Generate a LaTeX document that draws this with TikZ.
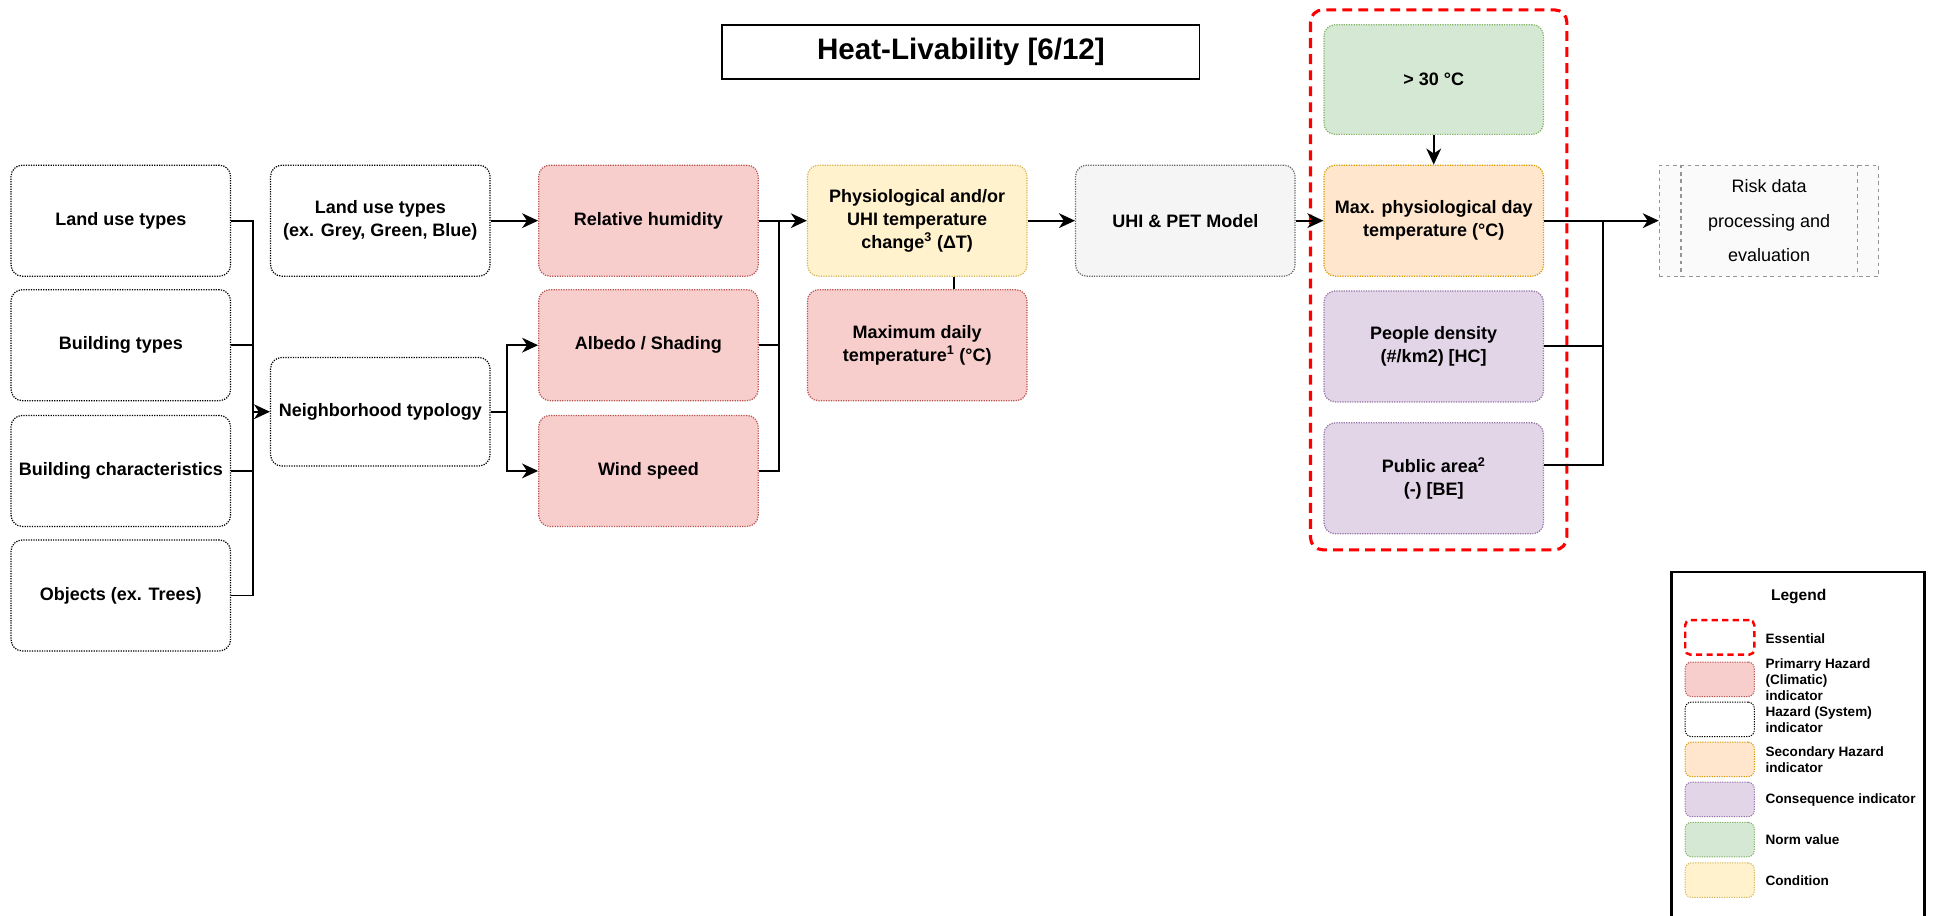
\documentclass[tikz,border=0pt]{standalone}
\usepackage{fontspec}
\setmainfont{Liberation Sans}
\usetikzlibrary{arrows.meta}

\definecolor{redF}{HTML}{F8CECC}\definecolor{redD}{HTML}{B85450}
\definecolor{yelF}{HTML}{FFF2CC}\definecolor{yelD}{HTML}{D6B656}
\definecolor{orgF}{HTML}{FFE6CC}\definecolor{orgD}{HTML}{D79B00}
\definecolor{purF}{HTML}{E1D5E7}\definecolor{purD}{HTML}{9673A6}
\definecolor{grnF}{HTML}{D5E8D4}\definecolor{grnD}{HTML}{82B366}
\definecolor{gryF}{HTML}{F5F5F5}\definecolor{gryD}{HTML}{666666}
\definecolor{essRed}{HTML}{FF0000}

\tikzset{
  box/.style={rounded corners=9pt, line width=1pt, dash pattern=on 1pt off 1pt,
    minimum width=178pt, minimum height=90pt, align=center, inner sep=2pt,
    font=\bfseries\fontsize{14.6}{18.5}\selectfont},
  sysbox/.style={box, draw=black, fill=white},
  primbox/.style={box, draw=redD, fill=redF},
  condbox/.style={box, draw=yelD, fill=yelF},
  secbox/.style={box, draw=orgD, fill=orgF},
  consbox/.style={box, draw=purD, fill=purF},
  normbox/.style={box, draw=grnD, fill=grnF},
  modelbox/.style={box, draw=gryD, fill=gryF},
  link/.style={line width=1.5pt, draw=black},
  arr/.style={link, -{Stealth[length=13pt, width=12pt, inset=4pt]}},
  essential/.style={draw=essRed, line width=2.5pt, dash pattern=on 8pt off 5pt, rounded corners=10pt},
  swatch/.style={rounded corners=5pt, line width=0.8pt, dash pattern=on 1pt off 1pt,
    minimum width=56pt, minimum height=28pt, inner sep=0pt},
  legtext/.style={anchor=west, align=left, inner sep=0pt,
    font=\bfseries\fontsize{11}{13}\selectfont}
}

\begin{document}
\begin{tikzpicture}[x=1pt, y=-1pt]
\useasboundingbox (0,0) rectangle (1568,743);

% title
\node[draw=black, line width=1.5pt, minimum width=387pt, minimum height=44pt,
  font=\bfseries\fontsize{24}{28}\selectfont] (title) at (779.5,42) {Heat-Livability [6/12]};

% essential group frame
\draw[essential] (1063,8) rectangle (1271,446);

% input layers
\node[sysbox] (lu1) at (98,179) {Land use types};
\node[sysbox] (bt)  at (98,280) {Building types};
\node[sysbox] (bc)  at (98,382) {Building characteristics};
\node[sysbox] (ob)  at (98,483) {Objects (ex. Trees)};

\node[sysbox] (lu2) at (308.5,179) {Land use types\\(ex. Grey, Green, Blue)};
\node[sysbox, minimum height=88pt] (nb) at (308.5,334) {Neighborhood typology};

% climatic indicators
\node[primbox] (rh) at (526,179) {Relative humidity};
\node[primbox] (al) at (526,280) {Albedo / Shading};
\node[primbox] (ws) at (526,382) {Wind speed};

\node[condbox] (ph) at (744,179) {Physiological and/or\\UHI temperature\\change\textsuperscript{3} (ΔT)};
\node[primbox] (md) at (744,280) {Maximum daily\\temperature\textsuperscript{1} (°C)};

\node[modelbox] (uhi) at (961.5,179) {UHI \& PET Model};

% essential indicators
\node[normbox, minimum height=89pt] (gr) at (1163,64.5) {> 30 °C};
\node[secbox] (mx) at (1163,179) {Max. physiological day\\temperature (°C)};
\node[consbox] (pd) at (1163,281) {People density\\(\#/km2) [HC]};
\node[consbox] (pa) at (1163,388) {Public area\textsuperscript{2}\\(-) [BE]};

% risk processing
\node[draw=gryD!70, fill=gray!4, line width=0.9pt, dash pattern=on 3pt off 3pt,
  minimum width=178pt, minimum height=90pt, align=center,
  font=\fontsize{14.6}{28}\selectfont] (risk) at (1435,179) {Risk data\\processing and\\evaluation};
\draw[draw=gryD!70, line width=0.9pt, dash pattern=on 3pt off 3pt]
  ([xshift=18pt]risk.north west) -- ([xshift=18pt]risk.south west)
  ([xshift=-18pt]risk.north east) -- ([xshift=-18pt]risk.south east);

% connectors: inputs to neighborhood typology
\coordinate (busA) at (205,334);
\draw[link] (lu1.east) -- (lu1.east -| busA) -- (ob.east -| busA) -- (ob.east);
\draw[link] (bt.east) -- (bt.east -| busA);
\draw[link] (bc.east) -- (bc.east -| busA);
\draw[arr] (busA) -- (nb.west);

\draw[arr] (lu2.east) -- (rh.west);

\coordinate (busB) at (411,334);
\draw[link] (nb.east) -- (busB);
\draw[arr] (busB) |- (al.west);
\draw[arr] (busB) |- (ws.west);

% climatic indicators to condition
\coordinate (busC) at (632,179);
\draw[link] (rh.east) -- (busC);
\draw[link] (al.east) -| (busC);
\draw[link] (ws.east) -| (busC);
\draw[arr] (busC) -- (ph.west);

\draw[link] ([xshift=30pt]ph.south) -- ([xshift=30pt]md.north);
\draw[arr] (ph.east) -- (uhi.west);
\draw[arr] (uhi.east) -- (mx.west);
\draw[arr] (gr.south) -- (mx.north);

% essential indicators to risk processing
\coordinate (busD) at (1300,179);
\draw[arr] (mx.east) -- (risk.west);
\draw[link] (pd.east) -| (busD);
\draw[link] ([yshift=11pt]pa.east) -| (busD);

% legend
\draw[line width=2pt] (1356,745) -- (1356,464) -- (1561,464) -- (1561,745);
\node[font=\bfseries\fontsize{12.6}{15}\selectfont] (legtitle) at (1459,484) {Legend};

\node[swatch, essential, line width=2pt, dash pattern=on 5pt off 3.5pt, rounded corners=4pt] (s1) at (1395,517) {};
\node[legtext] (t1) at (1432,518) {Essential};
\node[swatch, draw=redD, fill=redF] (s2) at (1395,551) {};
\node[legtext] (t2) at (1432,551) {Primarry Hazard\\(Climatic)\\indicator};
\node[swatch, draw=black, fill=white] (s3) at (1395,583.5) {};
\node[legtext] (t3) at (1432,584) {Hazard (System)\\indicator};
\node[swatch, draw=orgD, fill=orgF] (s4) at (1395,616) {};
\node[legtext] (t4) at (1432,616.5) {Secondary Hazard\\indicator};
\node[swatch, draw=purD, fill=purF] (s5) at (1395,648.5) {};
\node[legtext] (t5) at (1432,649) {Consequence indicator};
\node[swatch, draw=grnD, fill=grnF] (s6) at (1395,681) {};
\node[legtext] (t6) at (1432,681) {Norm value};
\node[swatch, draw=yelD, fill=yelF] (s7) at (1395,714) {};
\node[legtext] (t7) at (1432,714.5) {Condition};
\end{tikzpicture}
\end{document}
